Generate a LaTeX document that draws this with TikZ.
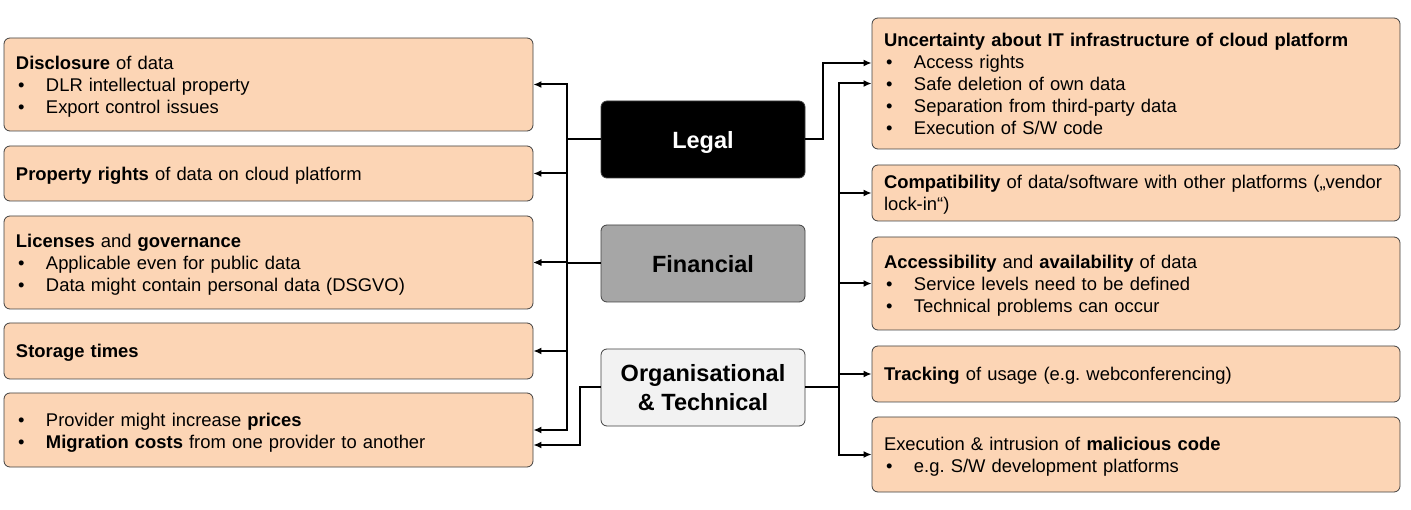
\documentclass[tikz,border=0pt]{standalone}
\usepackage{fontspec}
\setmainfont{Liberation Sans}
\usetikzlibrary{arrows.meta,calc}
\definecolor{peach}{RGB}{252,213,181}
\definecolor{bord}{RGB}{64,64,64}
\definecolor{fingray}{RGB}{166,166,166}
\definecolor{orggray}{RGB}{242,242,242}
\newcommand\bul[1]{\makebox[30pt][l]{\hspace{2pt}\textbullet}#1}
\begin{document}
\frenchspacing
\begin{tikzpicture}[x=1pt,y=-1pt,
  item/.style={draw=bord,fill=peach,rounded corners=6pt,line width=0.8pt,align=left,
    inner xsep=12pt,inner ysep=0pt,font=\fontsize{18.4}{22}\selectfont,
    execute at begin node={\rule{0pt}{18pt}},
    execute at end node={\rule[-4pt]{0pt}{4pt}}},
  litem/.style={item,text width=505pt},
  ritem/.style={item,text width=504pt},
  cat/.style={draw=bord,rounded corners=6pt,line width=0.8pt,minimum width=204pt,
    minimum height=77pt,align=center,text depth=0pt,font=\fontsize{23.5}{29}\selectfont\bfseries},
  conn/.style={line width=2pt,-{Latex[length=8pt,width=7pt]}}]
\useasboundingbox (0,0) rectangle (1411,510);

% left boxes
\node[litem,minimum height=93pt] (l1) at (268.5,84.5)
  {\textbf{Disclosure} of data\\\bul{DLR intellectual property}\\\bul{Export control issues}};
\node[litem,minimum height=55pt] (l2) at (268.5,173.5)
  {\textbf{Property rights} of data on cloud platform};
\node[litem,minimum height=93pt] (l3) at (268.5,262.5)
  {\textbf{Licenses} and \textbf{governance}\\\bul{Applicable even for public data}\\\bul{Data might contain personal data (DSGVO)}};
\node[litem,minimum height=56pt] (l4) at (268.5,351)
  {\textbf{Storage times}};
\node[litem,minimum height=74pt] (l5) at (268.5,430)
  {\bul{Provider might increase \textbf{prices}}\\\bul{\textbf{Migration costs} from one provider to another}};

% right boxes
\node[ritem,minimum height=131pt] (r1) at (1136,83.5)
  {\textbf{Uncertainty about IT infrastructure of cloud platform}\\\bul{Access rights}\\\bul{Safe deletion of own data}\\\bul{Separation from third-party data}\\\bul{Execution of S/W code}};
\node[ritem,minimum height=56pt] (r2) at (1136,193)
  {\textbf{Compatibility} of data/software with other platforms („vendor\\lock-in“)};
\node[ritem,minimum height=93pt] (r3) at (1136,283.5)
  {\textbf{Accessibility} and \textbf{availability} of data\\\bul{Service levels need to be defined}\\\bul{Technical problems can occur}};
\node[ritem,minimum height=56pt] (r4) at (1136,374)
  {\textbf{Tracking} of usage (e.g.\ webconferencing)};
\node[ritem,minimum height=75pt] (r5) at (1136,454.5)
  {Execution \& intrusion of \textbf{malicious code}\\\bul{e.g.\ S/W development platforms}};

% category boxes
\node[cat,fill=black,text=white] (legal) at (703,139.5) {Legal};
\node[cat,fill=fingray] (fin) at (703,263.5) {Financial};
\node[cat,fill=orggray] (org) at (703,387.5) {Organisational\\\& Technical};

% bus coordinates
\coordinate (busL) at (567,0);
\coordinate (busO) at (580,0);
\coordinate (busR1) at (823,0);
\coordinate (busR) at (839,0);

% left connectors
\foreach \t in {l1,l2,l3,l4,l5}
  \draw[conn] (legal.west) -- (legal.west -| busL) |- (\t.east);
\draw[conn] (fin.west) -- (fin.west -| busL) |- (l3.east);
\draw[conn] (org.west) -- (org.west -| busO) |- ([yshift=-15pt]l5.east);

% right connectors
\draw[conn] (legal.east) -- (legal.east -| busR1) |- ([yshift=20.5pt]r1.west);
\foreach \t in {r1,r2,r3,r4,r5}
  \draw[conn] (org.east) -- (org.east -| busR) |- (\t.west);
\end{tikzpicture}
\end{document}
